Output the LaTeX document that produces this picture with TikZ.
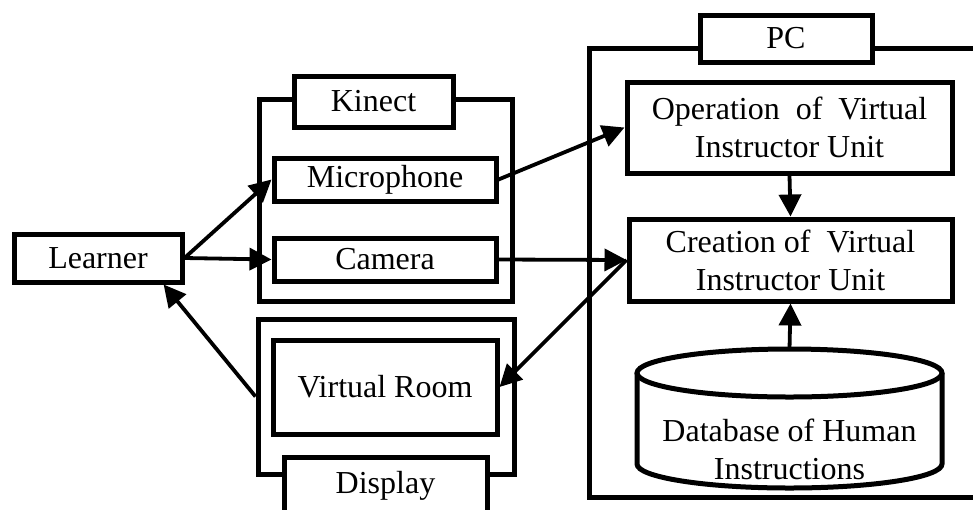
\documentclass[tikz,border=0pt]{standalone}
\usepackage{fontspec}
\setmainfont{Liberation Serif}
\usetikzlibrary{arrows.meta,calc}
\begin{document}
\begin{tikzpicture}[x=1pt,y=-1pt,
  txt/.style={font=\fontsize{32}{38}\selectfont},
  box/.style={draw,line width=5pt,fill=white,rectangle,inner sep=0pt,align=center,txt},
  frame/.style={draw,line width=5pt,rectangle,inner sep=0pt},
  arr/.style={line width=3.8pt,-{Triangle[length=22pt,width=22pt]}}]
\useasboundingbox (0,0) rectangle (973,509);
\clip (0,0) rectangle (973,509);
% Learner
\node[box,minimum width=168pt,minimum height=48pt] (learner) at (98,258) {Learner};
% Kinect
\node[frame,minimum width=253pt,minimum height=202pt] (kinect) at (385.5,200) {};
\node[box,minimum width=159pt,minimum height=51pt] (kinectlbl) at (373.5,101.5) {Kinect};
\node[box,minimum width=222pt,minimum height=43pt] (mic) at (385,179.5) {Microphone};
\node[box,minimum width=222pt,minimum height=43pt] (cam) at (385,259.5) {Camera};
% Display
\node[frame,minimum width=256pt,minimum height=155pt] (display) at (386,396.5) {};
\node[box,minimum width=224pt,minimum height=94pt] (vr) at (385,387) {Virtual Room};
\node[box,minimum width=203pt,minimum height=66pt] (displbl) at (385.5,490) {};
\node[txt,inner sep=0pt] (disptxt) at (385.5,486) {Display};
% PC
\node[frame,minimum width=400pt,minimum height=449pt] (pc) at (789,272.5) {};
\node[box,minimum width=172pt,minimum height=47pt] (pclbl) at (786,38.5) {PC};
\node[box,minimum width=325pt,minimum height=91pt] (op) at (789.5,127.5) {Operation\ \ of\ \ Virtual\\Instructor Unit};
\node[box,minimum width=323pt,minimum height=82pt] (cre) at (790.5,260) {Creation of\ \ Virtual\\Instructor Unit};
% Database cylinder
\draw[line width=5pt,fill=white] (637,373) -- (637,464) arc[start angle=180,end angle=360,x radius=152.5pt,y radius=24pt] -- (942,373);
\draw[line width=5pt] (789.5,373) ellipse[x radius=152.5pt,y radius=24pt];
\coordinate (dbtop) at (789.5,349);
\node[txt,align=center,inner sep=0pt] (db) at (789.5,449) {Database of Human\\Instructions};
% connectors
\draw[arr] (learner.east) -- (mic.west);
\draw[arr] (learner.east) -- (cam.west);
\draw[arr] (display.west) -- (learner.-22);
\draw[arr] (mic.east) -- (op.west);
\draw[arr] (cam.east) -- (cre.west);
\draw[arr] (cre.west) -- (vr.east);
\draw[arr] (op.south) -- (cre.north);
\draw[arr] (dbtop) -- (cre.south);
\end{tikzpicture}
\end{document}
